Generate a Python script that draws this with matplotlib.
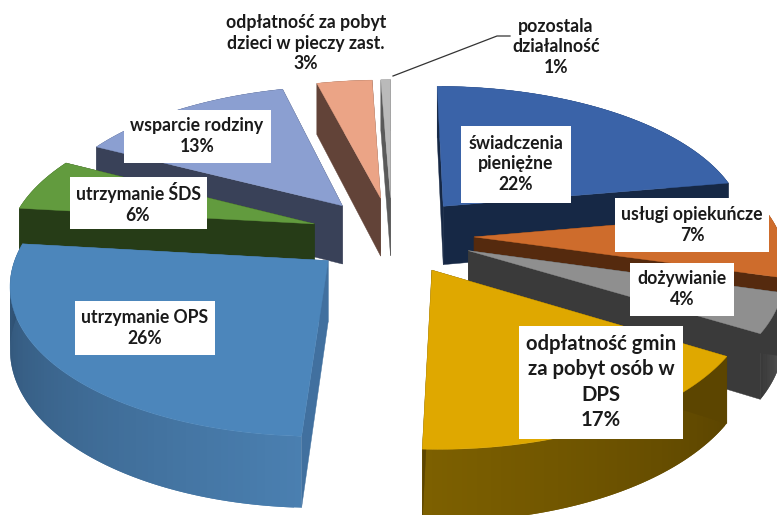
import numpy as np
import matplotlib
matplotlib.use("Agg")
import matplotlib.pyplot as plt
from matplotlib.patches import Rectangle

plt.rcParams['font.family'] = ['Lato', 'DejaVu Sans']

# shares, the labels show them rounded
names = ["świadczenia\npieniężne", "usługi opiekuńcze", "dożywianie",
         "odpłatność gmin\nza pobyt osób w\nDPS", "utrzymanie OPS",
         "utrzymanie ŚDS", "wsparcie rodziny",
         "odpłatność za pobyt\ndzieci w pieczy zast.", "pozostala\ndziałalność"]
values = [22.2, 7.2, 4.3, 17.0, 26.1, 5.8, 13.4, 3.4, 0.6]

top_colors = ["#3a63a8", "#ce6c2c", "#8f8f8f", "#dfa800", "#4c86bb",
              "#629b3e", "#8b9fd1", "#eba486", "#bababa"]
wall_colors = ["#162845", "#552a0e", "#3a3a3a", "#5c4500", "#41709f",
               "#263c17", "#394158", "#624338", "#5a5a5a"]
arc_start = ["#1f3a66", "#7a3f16", "#454545", "#5c4500", "#4a7fb0",
             "#2f4a1c", "#444e6a", "#74503f", "#666666"]
arc_end = ["#162845", "#552a0e", "#333333", "#7d6000", "#2e4f70",
           "#263c17", "#394158", "#624338", "#5a5a5a"]

# label centre x, y, box width, height, font size; None box means plain text
label_pos = [(516, 164, 110, 77, 12.7), (692, 225, 154, 54, 12.7), (682, 289, 104, 53, 12.7),
             (601, 382, 164, 113, 14.6), (145, 328, 140, 54, 12.7), (138, 203, 137, 52, 12.7),
             (197, 136, 147, 53, 12.7), (306, 43, None, None, 12.7), (556, 47, None, None, 12.7)]

CX, CY = 392, 235
R = 306
EXPLODE = 82
K = 0.47
Q = 0.00045
H = 60


def project(x, y):
    g = 1 / (1 + Q * y)
    return CX + x * g, CY - K * y * g, g


def rim(ex, ey, theta):
    return project(ex + R * np.sin(theta), ey + R * np.cos(theta))


def draw_slice(ax, ex, ey, t0, t1, top, wall, first, last):
    ts = np.linspace(t0, t1, 80)
    xs, ys, gs = rim(ex, ey, ts)
    tx, ty, tg = project(ex, ey)

    # outer wall, shaded along the arc, each piece overlaps the next to hide seams
    col0 = np.array(matplotlib.colors.to_rgb(first))
    col1 = np.array(matplotlib.colors.to_rgb(last))
    for i in range(len(ts) - 1):
        f = i / (len(ts) - 2)
        j = min(i + 2, len(ts) - 1)
        ax.fill([xs[i], xs[j], xs[j], xs[i]],
                [ys[i], ys[j], ys[j] + H * gs[j], ys[i] + H * gs[i]],
                color=col1 * f + col0 * (1 - f), lw=0, zorder=ax.next_z)

    # the two straight walls
    for i in (0, -1):
        ax.fill([tx, xs[i], xs[i], tx],
                [ty, ys[i], ys[i] + H * gs[i], ty + H * tg],
                color=wall, lw=0.3, zorder=ax.next_z + 0.1)

    ax.fill(np.r_[tx, xs], np.r_[ty, ys], color=top, lw=0.3, zorder=ax.next_z + 0.2)


fig = plt.figure(figsize=(7.77, 5.15), dpi=100)
ax = fig.add_axes([0, 0, 1, 1])
ax.set_xlim(0, 777)
ax.set_ylim(515, 0)
ax.axis("off")

shares = np.array(values) / sum(values) * 2 * np.pi
starts = np.r_[0, np.cumsum(shares)[:-1]]
mids = starts + shares / 2
ex_all = EXPLODE * np.sin(mids)
ey_all = EXPLODE * np.cos(mids)

# far slices first so nearer ones paint over them
for z, i in enumerate(np.argsort(-ey_all)):
    ax.next_z = 1 + z
    draw_slice(ax, ex_all[i], ey_all[i], starts[i], starts[i] + shares[i],
               top_colors[i], wall_colors[i], arc_start[i], arc_end[i])

for name, v, (lx, ly, w, h, fs) in zip(names, values, label_pos):
    if w is not None:
        ax.add_patch(Rectangle((lx - w / 2, ly - h / 2), w, h, color="white", lw=0, zorder=30))
    ax.text(lx, ly, name + "\n%.0f%%" % v, ha="center", va="center", fontsize=fs,
            fontweight="bold", color="#1a1a1a", linespacing=1.33 if fs > 14 else 1.25, zorder=31)

ax.plot([393, 497, 510], [76, 36, 36], color="#333333", lw=0.9, zorder=32)

fig.savefig("out.png", dpi=100)
